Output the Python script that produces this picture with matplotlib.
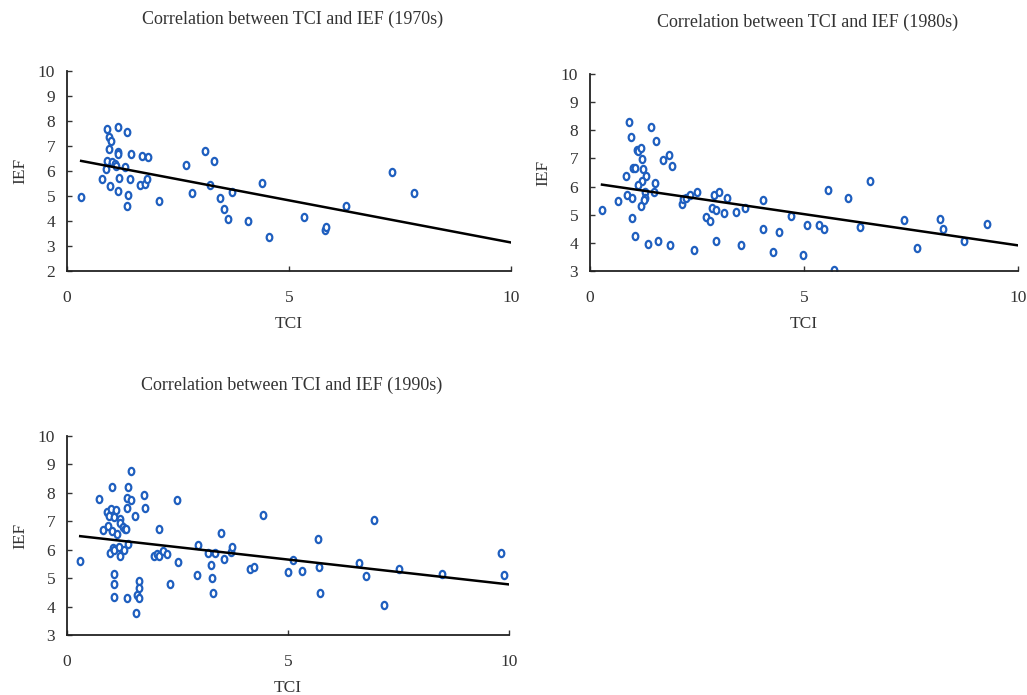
import numpy as np
import matplotlib
matplotlib.use("Agg")
import matplotlib.pyplot as plt
from matplotlib.path import Path
from matplotlib.transforms import Affine2D

# ==== 数据 ====
tci_1970 = [0.32, 0.91, 1.14, 1.36, 0.95, 0.99, 0.95, 1.14, 1.14, 1.44, 1.70, 1.83,
            0.90, 1.02, 1.09, 1.11, 1.30, 0.88, 0.80, 1.17, 1.41, 0.97, 1.14, 1.38,
            1.35, 1.65, 1.76, 1.81, 2.08, 2.67, 2.82, 3.10, 3.31, 3.23, 3.72, 3.45,
            3.53, 3.62, 4.08, 4.39, 4.55, 5.35, 5.81, 5.83, 6.29, 7.32, 7.81]
ief_1970 = [4.97, 7.66, 7.77, 7.57, 7.34, 7.20, 6.89, 6.76, 6.66, 6.69, 6.60, 6.56,
            6.40, 6.34, 6.26, 6.19, 6.15, 6.07, 5.67, 5.73, 5.67, 5.41, 5.21, 5.02,
            4.61, 5.43, 5.47, 5.69, 4.78, 6.22, 5.11, 6.78, 6.41, 5.43, 5.15, 4.93,
            4.46, 4.09, 3.99, 5.53, 3.35, 4.14, 3.63, 3.74, 4.61, 5.95, 5.11]

tci_1980 = [0.28, 0.65, 0.83, 0.90, 0.95, 0.87, 0.97, 0.97, 1.04, 1.01, 1.04, 1.09,
            1.12, 1.18, 1.21, 1.23, 1.30, 1.22, 1.11, 1.29, 1.28, 1.27, 1.18, 1.51,
            1.49, 1.42, 1.54, 1.36, 1.60, 1.71, 1.84, 1.92, 1.87, 2.14, 2.17, 2.24,
            2.34, 2.49, 2.42, 2.71, 2.81, 2.84, 2.94, 2.89, 3.02, 2.95, 3.13, 3.19,
            3.41, 3.62, 3.53, 4.05, 4.05, 4.27, 4.42, 4.70, 4.98, 5.07, 5.35, 5.46,
            5.56, 5.71, 6.03, 6.31, 6.55, 7.33, 7.63, 8.17, 8.25, 8.75, 9.27]
ief_1980 = [5.18, 5.47, 6.38, 8.30, 7.76, 5.71, 5.60, 4.90, 4.25, 6.67, 6.67, 7.31,
            7.28, 7.38, 6.98, 6.62, 6.38, 6.20, 6.07, 5.79, 5.60, 5.51, 5.31, 6.13,
            5.79, 8.12, 7.63, 3.97, 4.08, 6.94, 7.11, 6.73, 3.92, 5.37, 5.54, 5.61,
            5.71, 5.81, 3.75, 4.91, 4.77, 5.23, 5.15, 5.69, 5.81, 4.05, 5.06, 5.60,
            5.11, 5.25, 3.93, 5.51, 4.50, 3.68, 4.37, 4.95, 3.55, 4.62, 4.65, 4.49,
            5.88, 3.03, 5.60, 4.57, 6.21, 4.82, 3.80, 4.86, 4.50, 4.05, 4.66]

tci_1990 = [0.30, 0.73, 0.81, 0.91, 0.94, 0.99, 0.93, 1.01, 1.06, 1.12, 1.01, 1.14,
            0.98, 1.04, 1.06, 1.17, 1.21, 1.20, 1.21, 1.27, 1.31, 1.34, 1.28, 1.37,
            1.36, 1.35, 1.38, 1.44, 1.46, 1.06, 1.06, 1.06, 1.36, 1.55, 1.62, 1.62,
            1.58, 1.63, 1.57, 1.74, 1.77, 1.97, 2.03, 2.08, 2.08, 2.17, 2.26, 2.32,
            2.50, 2.52, 2.94, 2.97, 3.19, 3.25, 3.29, 3.31, 3.36, 3.49, 3.55, 3.70,
            3.74, 4.14, 4.24, 4.43, 5.01, 5.12, 5.31, 5.68, 5.71, 5.73, 6.61, 6.76,
            6.95, 7.17, 7.51, 8.48, 9.81, 9.88]
ief_1990 = [5.60, 7.78, 6.68, 7.34, 7.20, 7.43, 6.83, 6.66, 7.15, 7.39, 8.19, 6.54,
            5.89, 6.07, 5.99, 6.10, 5.77, 7.07, 6.93, 6.81, 6.74, 6.72, 5.99, 6.19,
            7.47, 7.83, 8.19, 7.74, 8.76, 5.16, 4.78, 4.35, 4.31, 7.17, 4.89, 4.67,
            4.40, 4.30, 3.77, 7.93, 7.47, 5.77, 5.84, 5.79, 6.74, 5.97, 5.84, 4.79,
            7.75, 5.57, 5.12, 6.18, 5.89, 5.47, 4.99, 4.47, 5.87, 6.58, 5.69, 5.91,
            6.10, 5.31, 5.40, 7.23, 5.21, 5.64, 5.24, 6.38, 5.39, 4.47, 5.52, 5.08,
            7.06, 4.06, 5.32, 5.13, 5.89, 5.12]

# 趋势线（截距, 斜率）
fit_1970 = (6.51, -0.337)
fit_1980 = (6.13, -0.222)
fit_1990 = (6.53, -0.175)

decades = ["1970s", "1980s", "1990s"]

# ==== 绘图 ====
font = "Liberation Serif"
# 略竖长的椭圆标记
oval = Path.unit_circle().transformed(Affine2D().scale(0.78, 1.0))

fig = plt.figure(figsize=(10.27, 6.95), dpi=100)

panels = [
    (tci_1970, ief_1970, fit_1970, 2, [0.0652, 0.6101, 0.4323, 0.2878], (293, 19)),
    (tci_1980, ief_1980, fit_1980, 3, [0.5745, 0.6101, 0.4167, 0.2835], (808, 22)),
    (tci_1990, ief_1990, fit_1990, 3, [0.0652, 0.0863, 0.4304, 0.2863], (292, 385)),
]

for (x, y, fit, ymin, rect, tpos), dec in zip(panels, decades):
    ax = fig.add_axes(rect)
    ax.plot(x, y, linestyle="none", marker=oval, markersize=5.2,
            markerfacecolor="white", markeredgecolor="#1f5fbf", markeredgewidth=1.6)
    lx = np.array([min(x), 10.0])
    ax.plot(lx, fit[0] + fit[1] * lx, color="black", linewidth=1.8)
    ax.set_xlim(0, 10)
    ax.set_ylim(ymin, 10)
    ax.set_xticks([0, 5, 10])
    ax.set_yticks(range(ymin, 11))
    for s in ["top", "right"]:
        ax.spines[s].set_visible(False)
    for s in ["left", "bottom"]:
        ax.spines[s].set_linewidth(1.3)
        ax.spines[s].set_color("#222222")
    ax.tick_params(axis="y", direction="in", length=3.5, width=1, pad=8.5,
                   labelsize=12.5, colors="#333333")
    ax.tick_params(axis="x", direction="in", length=3.5, width=1, pad=14,
                   labelsize=12.5, colors="#333333")
    for lab in ax.get_xticklabels() + ax.get_yticklabels():
        lab.set_family(font)
    ax.set_xlabel("TCI", fontsize=12.5, family=font, color="#333333", labelpad=7)
    ax.set_ylabel("IEF", fontsize=12.5, family=font, color="#333333", labelpad=7)
    fig.text(tpos[0] / 1027, 1 - tpos[1] / 695, "Correlation between TCI and IEF (%s)" % dec,
             ha="center", va="center", fontsize=13, family=font, color="#333333")

fig.savefig("out.png", dpi=100)
